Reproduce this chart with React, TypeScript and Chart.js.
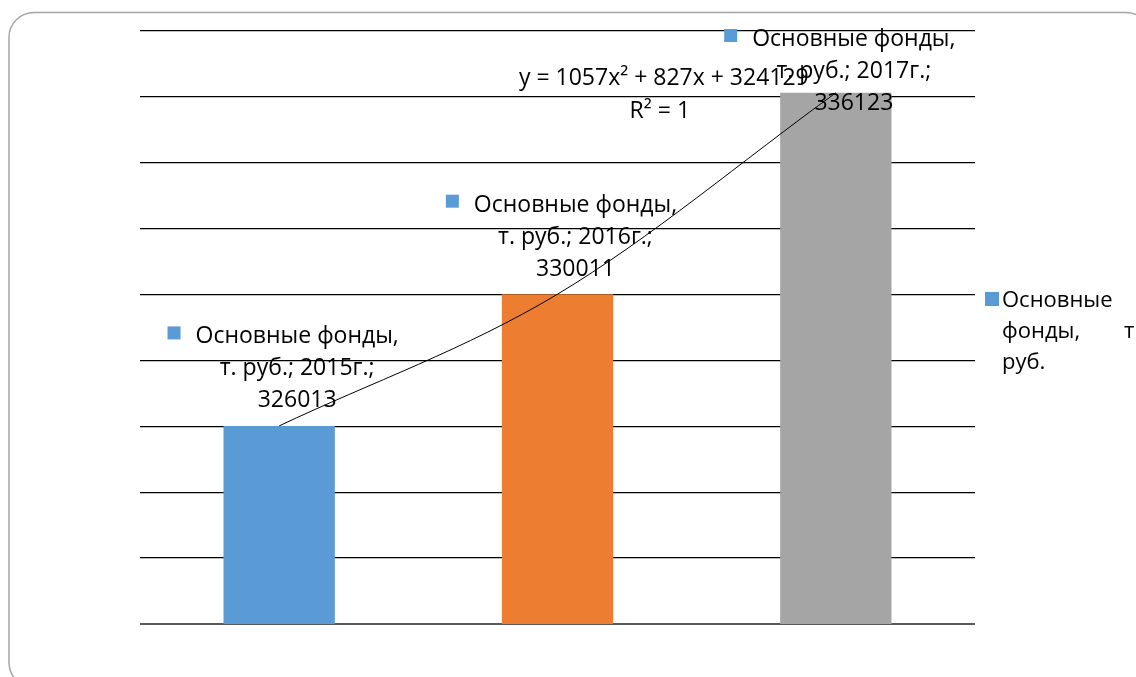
import React, { useEffect, useRef } from "react";
import { Chart, registerables } from "chart.js";

Chart.register(...registerables);

const CATEGORIES = ["2015г.", "2016г.", "2017г."];
const VALUES = [326013, 330011, 336123];
const BAR_COLORS = ["#5B9BD5", "#ED7D31", "#A5A5A5"];
const SERIES_NAME = "Основные фонды, т. руб.";
const LEGEND_LINES = ["Основные", "фонды,", "руб."];
const LEGEND_TAIL = "т";
const LABEL_HEAD = "Основные фонды,";
const LABEL_UNIT = "т. руб.";
const TREND_EQUATION = "y = 1057x² + 827x + 324129";
const TREND_R2 = "R² = 1";
const Y_MIN = 320000;
const Y_MAX = 338000;
const Y_STEP = 2000;

const FONT_FAMILY = "'Open Sans', 'Noto Sans', sans-serif";
const FONT_SIZE = 23;
const LEGEND_FONT_SIZE = 22;
const LH = 32;

const frame = {
  id: "frame",
  beforeDraw(chart: any) {
    const ctx = chart.ctx;
    ctx.save();
    ctx.fillStyle = "#ffffff";
    ctx.fillRect(0, 0, chart.width, chart.height);
    ctx.strokeStyle = "#a6a6a6";
    ctx.lineWidth = 1.5;
    ctx.beginPath();
    (ctx as any).roundRect(9, 12.5, 1142, 675, 25);
    ctx.stroke();
    ctx.restore();
  },
};

const labels = {
  id: "labels",
  afterDatasetsDraw(chart: any) {
    const ctx = chart.ctx;
    const meta = chart.getDatasetMeta(0);
    ctx.save();
    ctx.font = `${FONT_SIZE}px ${FONT_FAMILY}`;
    ctx.fillStyle = "#000";
    ctx.textBaseline = "alphabetic";
    meta.data.forEach((bar: any, i: number) => {
      const lines = [LABEL_HEAD, `${LABEL_UNIT}; ${CATEGORIES[i]};`, String(VALUES[i])];
      const cx = bar.x + 18;
      let first = bar.y - 18.5 - 2 * LH;
      if (first < 46) first = 46;
      ctx.textAlign = "center";
      lines.forEach((t, k) => ctx.fillText(t, cx, first + k * LH));
      const w1 = ctx.measureText(lines[0]).width;
      ctx.fillStyle = BAR_COLORS[0];
      ctx.fillRect(cx - w1 / 2 - 28, first - 17, 13, 13);
      ctx.fillStyle = "#000";
    });

    // trendline equation
    const lm = chart.getDatasetMeta(1);
    const last = lm.data[lm.data.length - 1];
    ctx.textAlign = "center";
    ctx.fillText(TREND_EQUATION, last.x - 172, last.y - 8);
    ctx.fillText(TREND_R2, last.x - 176, last.y + 25);

    // legend on the right
    const a = chart.chartArea;
    ctx.font = `${LEGEND_FONT_SIZE}px ${FONT_FAMILY}`;
    ctx.fillStyle = BAR_COLORS[0];
    ctx.fillRect(a.right + 10, 292, 14, 14);
    ctx.fillStyle = "#000";
    ctx.textAlign = "left";
    const lx = a.right + 27;
    ctx.fillText(LEGEND_LINES[0], lx, 307);
    ctx.fillText(LEGEND_LINES[1], lx, 338);
    ctx.fillText(LEGEND_TAIL, lx + 122, 338);
    ctx.fillText(LEGEND_LINES[2], lx, 369);
    ctx.restore();
  },
};

export default function App() {
  const ref = useRef<HTMLCanvasElement | null>(null);
  useEffect(() => {
    if (!ref.current) return;
    const chart = new Chart(ref.current, {
      type: "bar",
      data: {
        labels: CATEGORIES,
        datasets: [
          {
            type: "bar",
            label: SERIES_NAME,
            data: VALUES,
            backgroundColor: BAR_COLORS,
            barPercentage: 0.4,
            categoryPercentage: 1,
            order: 2,
          } as any,
          {
            type: "line",
            label: "trend",
            data: VALUES,
            borderColor: "#000",
            borderWidth: 1,
            pointRadius: 0,
            fill: false,
            cubicInterpolationMode: "monotone",
            order: 1,
          } as any,
        ],
      },
      options: {
        animation: false,
        responsive: false,
        devicePixelRatio: 1,
        layout: { padding: { left: 140, right: 161, top: 31, bottom: 53 } },
        plugins: { legend: { display: false }, tooltip: { enabled: false } },
        scales: {
          x: {
            offset: true,
            grid: { display: false },
            border: { display: false },
            ticks: { display: false },
            afterFit: (s: any) => { s.height = 0; },
          },
          y: {
            min: Y_MIN,
            max: Y_MAX,
            ticks: { display: false, stepSize: Y_STEP },
            border: { display: false },
            grid: {
              drawTicks: false,
              color: (c: any) => (c.tick && c.tick.value === Y_MIN ? "#595959" : "#000"),
              lineWidth: (c: any) => (c.tick && c.tick.value === Y_MIN ? 2 : 1.3),
            },
            afterFit: (s: any) => { s.width = 0; },
          },
        },
      } as any,
      plugins: [frame, labels],
    });
    return () => chart.destroy();
  }, []);
  return (
    <div style={{ position: "absolute", left: 0, top: 0, width: 1136, height: 677, overflow: "hidden" }}>
      <canvas ref={ref} width={1136} height={677} style={{ display: "block" }} />
    </div>
  );
}
